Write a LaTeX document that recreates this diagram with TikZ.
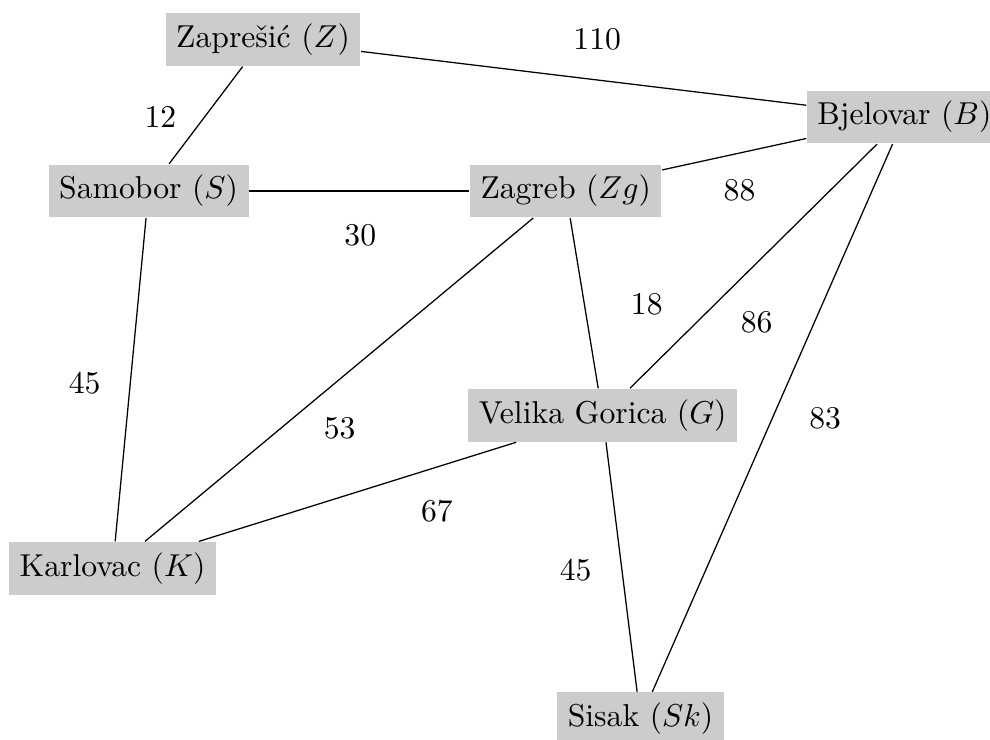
\documentclass[tikz,border=0pt]{standalone}
\usepackage{tikz}

\begin{document}
\begin{tikzpicture}[town/.style={fill=gray!40}, dist/.style={inner sep=1pt}]
  % Fixed frame, same proportions as the original sheet
  \useasboundingbox (0,0) rectangle (10.99,8.21);
  % Towns
  \node[town] (Z)  at (2.92,7.77) {Zaprešić ($Z$)};
  \node[town] (B)  at (10.04,6.91) {Bjelovar ($B$)};
  \node[town] (S)  at (1.65,6.09) {Samobor ($S$)};
  \node[town] (Zg) at (6.28,6.09) {Zagreb ($Zg$)};
  \node[town] (G)  at (6.69,3.60) {Velika Gorica ($G$)};
  \node[town] (K)  at (1.25,1.90) {Karlovac ($K$)};
  \node[town] (Sk) at (7.11,0.23) {Sisak ($Sk$)};
  % Roads
  \draw (Z) -- (B);
  \draw (Z) -- (S);
  \draw (S) -- (Zg);
  \draw (Zg) -- (B);
  \draw (S) -- (K);
  \draw (Zg) -- (K);
  \draw (Zg) -- (G);
  \draw (B) -- (G);
  \draw (B) -- (Sk);
  \draw (G) -- (K);
  \draw (G) -- (Sk);
  % Distances
  \node[dist] (dZB)  at (6.63,7.77) {110};
  \node[dist] (dZS)  at (1.78,6.91) {12};
  \node[dist] (dSZg) at (4.00,5.60) {30};
  \node[dist] (dZgB) at (8.21,6.10) {88};
  \node[dist] (dSK)  at (0.94,3.96) {45};
  \node[dist] (dZgK) at (3.77,3.46) {53};
  \node[dist] (dZgG) at (7.18,4.83) {18};
  \node[dist] (dBG)  at (8.40,4.63) {86};
  \node[dist] (dBSk) at (9.16,3.57) {83};
  \node[dist] (dGK)  at (4.85,2.53) {67};
  \node[dist] (dGSk) at (6.39,1.88) {45};
\end{tikzpicture}
\end{document}
